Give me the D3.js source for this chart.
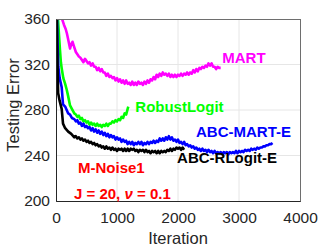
<!DOCTYPE html>
<html>
<head>
<meta charset="utf-8">
<style>
  body { margin: 0; background: #fff; }
  svg { display: block; font-family: 'Liberation Sans', Arial, Helvetica, sans-serif; }
</style>
</head>
<body>
<div id="chart"></div>
<script src="https://cdn.jsdelivr.net/npm/d3@7/dist/d3.min.js"></script>
<script>
// values: [iteration, testing error]
var martData = [[80,366],[100,360],[130,355],[160,351],[180,347],[200,342],[230,334],[250,338],[270,340],
  [300,335],[325,331],[350,329],[375,327],[400,326],[425,324],[450,322],[475,325],[500,323],[525,321],
  [550,322],[575,319],[600,321],[625,318],[650,318],[675,315],[700,317],[725,314],[750,316],[775,313],
  [800,313],[825,310],[850,312],[875,309],[900,310],[925,308],[950,309],[975,306],[1000,308],[1025,305],
  [1050,307],[1075,304],[1100,306],[1125,303],[1150,306],[1175,303],[1200,304],[1225,302],[1250,305],
  [1275,302],[1300,304],[1325,302],[1350,305],[1375,303],[1400,304],[1425,302],[1450,305],[1475,303],
  [1500,306],[1525,304],[1550,307],[1575,306],[1600,309],[1625,307],[1650,311],[1675,309],[1700,312],
  [1725,310],[1750,313],[1775,311],[1800,312],[1825,310],[1850,312],[1875,309],[1900,311],[1925,309],
  [1950,311],[1975,309],[2000,311],[2025,310],[2050,312],[2075,310],[2100,312],[2125,311],[2150,313],
  [2175,311],[2200,313],[2225,312],[2250,315],[2275,313],[2300,316],[2325,314],[2350,317],[2375,316],
  [2400,318],[2425,317],[2450,319],[2475,318],[2500,321],[2525,319],[2550,321],[2575,318],[2600,318],
  [2625,316],[2650,318],[2675,317],[2700,317]];

var robustData = [[30,362],[50,345],[65,333],[80,322],[95,316],[120,308],[150,303],[175,298],[200,292],
  [230,284],[260,281],[300,277],[325,276],[350,274],[375,275],[400,272],[425,273],[450,270],[475,271],
  [500,269],[525,270],[550,267],[575,269],[600,267],[625,268],[650,266],[675,268],[700,266],[725,267],
  [750,265],[775,267],[800,266],[825,268],[850,266],[875,268],[900,268],[925,270],[950,269],[975,271],
  [1000,270],[1025,272],[1050,271],[1075,274],[1100,273],[1125,277],[1150,276],[1175,281],[1185,283]];

var abcMartData = [[15,365],[25,340],[38,318],[60,308],[93,300],[115,285],[150,283],[200,277],[230,276],
  [260,273],[300,272],[325,270],[350,271],[375,268],[400,269],[425,266],[450,268],[475,265],[500,266],
  [525,264],[550,265],[575,262],[600,264],[625,261],[650,263],[675,260],[700,262],[725,259],[750,261],
  [775,258],[800,260],[825,257],[850,259],[875,256],[900,258],[925,256],[950,257],[975,254],[1000,256],
  [1025,254],[1050,255],[1075,252],[1100,254],[1125,252],[1150,253],[1175,250],[1200,252],[1225,250],
  [1250,252],[1275,249],[1300,251],[1325,250],[1350,252],[1375,250],[1400,252],[1425,249],[1450,251],
  [1475,250],[1500,252],[1525,250],[1550,252],[1575,251],[1600,253],[1625,251],[1650,253],[1675,252],
  [1700,255],[1725,253],[1750,255],[1775,253],[1800,256],[1825,254],[1850,257],[1875,254],[1900,256],
  [1925,253],[1950,254],[1975,252],[2000,254],[2025,251],[2050,252],[2075,250],[2100,252],[2125,249],
  [2150,250],[2175,248],[2200,249],[2225,247],[2250,248],[2275,246],[2300,247],[2325,245],[2350,246],
  [2375,244],[2400,246],[2425,244],[2450,245],[2475,243],[2500,245],[2525,243],[2550,244],[2575,242],
  [2600,244],[2625,242],[2650,243],[2675,242],[2700,243],[2725,241],[2750,243],[2775,242],[2800,243],
  [2825,241],[2850,243],[2875,242],[2900,243],[2925,242],[2950,244],[2975,242],[3000,244],[3025,243],
  [3050,244],[3075,243],[3100,245],[3125,244],[3150,245],[3175,244],[3200,246],[3225,245],[3250,246],
  [3275,245],[3300,247],[3325,246],[3350,247],[3375,247],[3400,248],[3425,248],[3450,249],[3475,249],
  [3500,250],[3525,250],[3550,251]];

var abcRlogitData = [[10,365],[20,330],[35,295],[60,288],[93,281],[115,268],[150,264],[200,261],[250,259],
  [300,256],[325,257],[350,255],[375,256],[400,254],[425,255],[450,253],[475,254],[500,252],[525,253],
  [550,251],[575,252],[600,250],[625,251],[650,249],[675,250],[700,248],[725,249],[750,247],[775,248],
  [800,246],[825,248],[850,246],[875,247],[900,245],[925,247],[950,245],[975,246],[1000,244],[1025,246],
  [1050,245],[1075,246],[1100,244],[1125,246],[1150,244],[1175,246],[1200,244],[1225,246],[1250,245],
  [1275,246],[1300,244],[1325,245],[1350,243],[1375,245],[1400,244],[1425,245],[1450,243],[1475,245],
  [1500,243],[1525,244],[1550,242],[1575,244],[1600,243],[1625,244],[1650,242],[1675,244],[1700,242],
  [1725,244],[1750,243],[1775,244],[1800,243],[1825,245],[1850,244],[1875,246],[1900,244],[1925,246],
  [1950,245],[1975,247],[2000,246],[2025,247],[2050,245],[2075,247],[2100,245]];

var seriesNames = ['MART', 'RobustLogit', 'ABC-MART-E', 'ABC-RLogit-E'];
var seriesColors = ['#ff00ff', '#00ff00', '#0000ff', '#000000'];
var xTicks = [0, 1000, 2000, 3000, 4000];
var yTicks = [200, 240, 280, 320, 360];

var width = 332, height = 249;
var margin = {top: 19, right: 32, bottom: 48, left: 56};

var svg = d3.select('#chart').append('svg')
    .attr('width', width)
    .attr('height', height);

var x = d3.scaleLinear().domain([0, 4000]).range([margin.left, width - margin.right]);
var y = d3.scaleLinear().domain([200, 360]).range([height - margin.bottom, margin.top]);

// grid
svg.append('g')
    .selectAll('line')
    .data(xTicks.slice(1, -1))
    .join('line')
    .attr('x1', d => x(d)).attr('x2', d => x(d))
    .attr('y1', y(200)).attr('y2', y(360))
    .attr('stroke', '#e6e6e6').attr('stroke-width', 1);

svg.append('g')
    .selectAll('line')
    .data(yTicks.slice(1, -1))
    .join('line')
    .attr('x1', x(0)).attr('x2', x(4000))
    .attr('y1', d => y(d)).attr('y2', d => y(d))
    .attr('stroke', '#e6e6e6').attr('stroke-width', 1);

svg.append('clipPath').attr('id', 'clip')
  .append('rect')
    .attr('x', x(0)).attr('y', y(360))
    .attr('width', x(4000) - x(0)).attr('height', y(200) - y(360));

var line = d3.line()
    .x(d => x(d[0]))
    .y(d => y(d[1]));

var allData = [martData, robustData, abcMartData, abcRlogitData];

svg.append('g').attr('clip-path', 'url(#clip)')
    .selectAll('path')
    .data(allData)
    .join('path')
    .attr('d', line)
    .attr('fill', 'none')
    .attr('stroke', (d, i) => seriesColors[i])
    .attr('stroke-width', 2.6)
    .attr('stroke-linejoin', 'round');

// box
svg.append('rect')
    .attr('x', x(0) + 0.5).attr('y', y(360) + 0.5)
    .attr('width', x(4000) - x(0)).attr('height', y(200) - y(360))
    .attr('fill', 'none').attr('stroke', '#6e6e6e').attr('stroke-width', 1);

// axes
var xAxis = svg.append('g')
    .attr('transform', 'translate(0,' + y(200) + ')')
    .call(d3.axisBottom(x).tickValues(xTicks).tickSize(0).tickPadding(11).tickFormat(d3.format('d')));
var yAxis = svg.append('g')
    .attr('transform', 'translate(' + x(0) + ',0)')
    .call(d3.axisLeft(y).tickValues(yTicks).tickSize(0).tickPadding(6).tickFormat(d3.format('d')));

[xAxis, yAxis].forEach(function(a){
  a.select('.domain').attr('stroke', '#262626');
  a.selectAll('text').attr('font-size', 15.5).attr('fill', '#262626').attr('font-family', null);
});

svg.append('text')
    .attr('x', (x(0) + x(4000)) / 2).attr('y', 244)
    .attr('text-anchor', 'middle')
    .attr('font-size', 16.5).attr('fill', '#262626')
    .text('Iteration');

svg.append('text')
    .attr('transform', 'translate(19,' + ((y(200) + y(360)) / 2 - 5) + ') rotate(-90)')
    .attr('text-anchor', 'middle')
    .attr('font-size', 16.5).attr('fill', '#262626')
    .text('Testing Error');

// labels
var labels = [
  {text: seriesNames[0], it: 2725, err: 321.5, color: seriesColors[0]},
  {text: seriesNames[1], it: 1300, err: 278, color: seriesColors[1]},
  {text: seriesNames[2], it: 2295, err: 256.5, color: seriesColors[2]},
  {text: seriesNames[3], it: 1985, err: 233, color: seriesColors[3]}
];

svg.append('g')
    .selectAll('text')
    .data(labels)
    .join('text')
    .attr('x', d => x(d.it)).attr('y', d => y(d.err))
    .attr('font-size', 15).attr('font-weight', 'bold')
    .attr('fill', d => d.color)
    .text(d => d.text);

svg.append('text')
    .attr('x', 78).attr('y', 173)
    .attr('font-size', 15).attr('font-weight', 'bold').attr('fill', '#ff0000')
    .text('M-Noise1');

var jt = svg.append('text')
    .attr('x', 74).attr('y', 199)
    .attr('font-size', 15).attr('font-weight', 'bold').attr('fill', '#ff0000');
jt.append('tspan').text('J = 20, ');
jt.append('tspan').attr('font-style', 'italic').text('\u03bd');
jt.append('tspan').text(' = 0.1');
</script>
</body>
</html>
